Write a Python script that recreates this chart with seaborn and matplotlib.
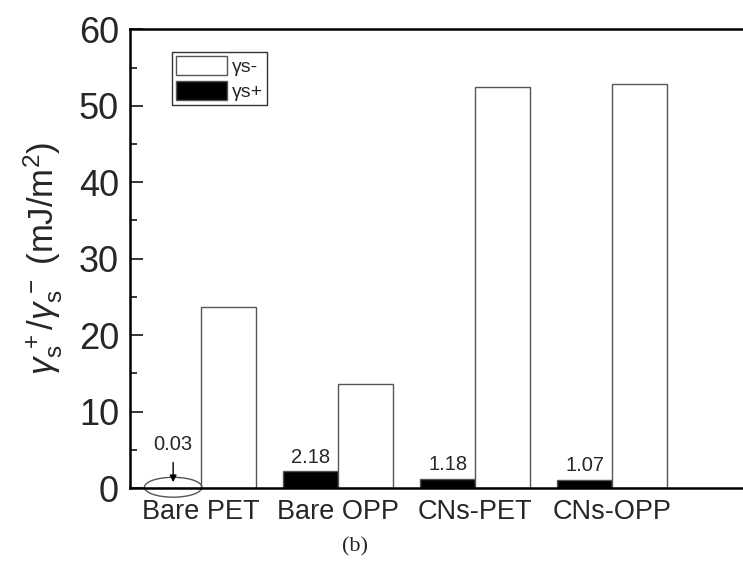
import matplotlib
matplotlib.use("Agg")
import matplotlib.pyplot as plt
from matplotlib.patches import Ellipse
from matplotlib.ticker import MultipleLocator
import seaborn as sns
import pandas as pd

# Surface energy components per sample
samples = ["Bare PET", "Bare OPP", "CNs-PET", "CNs-OPP"]
gamma_plus = [0.03, 2.18, 1.18, 1.07]
gamma_minus = [23.7, 13.6, 52.5, 52.9]
series_names = ["γs+", "γs-"]
plus_labels = ["0.03", "2.18", "1.18", "1.07"]

df = pd.DataFrame({
    "sample": samples * 2,
    "value": gamma_plus + gamma_minus,
    "component": [series_names[0]] * 4 + [series_names[1]] * 4,
})

sns.set_style("ticks")
plt.rcParams["font.family"] = ["Liberation Sans", "DejaVu Sans"]
plt.rcParams["mathtext.fontset"] = "custom"
plt.rcParams["mathtext.rm"] = "Liberation Sans"
plt.rcParams["mathtext.it"] = "Liberation Sans:italic"

fig = plt.figure(figsize=(7.43, 5.74), dpi=100)
ax = fig.add_axes([0.175, 0.1498, 0.833, 0.7992])

sns.barplot(
    data=df, x="sample", y="value", hue="component",
    hue_order=series_names, order=samples,
    palette={series_names[0]: "black", series_names[1]: "white"},
    edgecolor="#555555", linewidth=1.0, width=0.8, saturation=1,
    ax=ax,
)

ax.set_xlim(-0.52, 4.0)
ax.set_ylim(0, 60)
ax.yaxis.set_major_locator(MultipleLocator(10))
ax.yaxis.set_minor_locator(MultipleLocator(5))
ax.tick_params(axis="y", which="major", direction="in", length=9, width=1.3,
               labelsize=26, pad=8)
ax.tick_params(axis="y", which="minor", direction="in", length=5, width=1.3)
ax.tick_params(axis="x", length=0, labelsize=19.5, pad=8)
ax.set_xlabel("")
ax.set_ylabel(r"$\gamma_{\mathrm{s}}^{\,+}/\gamma_{\mathrm{s}}^{\,-}$ (mJ/m$^{2}$)",
              fontsize=25, labelpad=10)

for side in ["left", "bottom", "top"]:
    ax.spines[side].set_linewidth(1.8)
    ax.spines[side].set_color("black")
ax.spines["right"].set_visible(False)

# value labels above the black bars
for i in range(1, len(samples)):
    ax.text(i - 0.2, gamma_plus[i] + 0.6, plus_labels[i],
            ha="center", va="bottom", fontsize=14.5)

# callout for the near-zero first bar
ax.add_patch(Ellipse((-0.205, 0.1), 0.42, 2.6, fill=False,
                     edgecolor="#555555", linewidth=1.0, clip_on=False))
ax.annotate("", xy=(-0.205, 0.4), xytext=(-0.205, 3.7),
            arrowprops=dict(arrowstyle="-|>", color="black", lw=1.0,
                            mutation_scale=10))
ax.text(-0.205, 4.4, plus_labels[0], ha="center", va="bottom", fontsize=14.5)

handles, labels = ax.get_legend_handles_labels()
order = [labels.index(series_names[1]), labels.index(series_names[0])]
leg = ax.legend([handles[k] for k in order], [labels[k] for k in order],
                loc="upper left", bbox_to_anchor=(0.068, 0.95),
                fontsize=14, frameon=True, fancybox=False,
                handlelength=2.6, handleheight=1.1, handletextpad=0.3,
                borderpad=0.2, labelspacing=0.25, borderaxespad=0)
leg.get_frame().set_edgecolor("black")
leg.get_frame().set_linewidth(1.0)

fig.text(355 / 743, 1 - 547 / 574, "(b)", ha="center", va="center",
         fontsize=16, family="Liberation Serif")

fig.savefig("out.png", dpi=100)
